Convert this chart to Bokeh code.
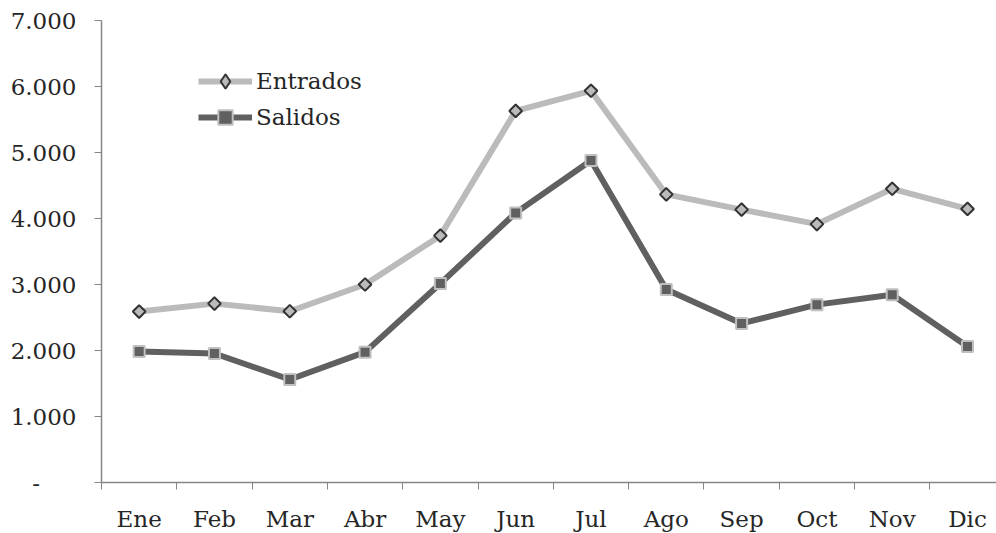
import numpy as np
from bokeh.plotting import figure
from bokeh.models import Range1d, FixedTicker, Legend, LegendItem
from bokeh.embed import file_html
from bokeh.resources import INLINE

months = ["Ene", "Feb", "Mar", "Abr", "May", "Jun", "Jul", "Ago", "Sep", "Oct", "Nov", "Dic"]
entrados = [2590, 2710, 2595, 3000, 3740, 5630, 5935, 4365, 4135, 3915, 4450, 4145]
salidos = [1985, 1955, 1560, 1975, 3015, 4085, 4880, 2925, 2410, 2695, 2845, 2060]
y_ticks = [0, 1000, 2000, 3000, 4000, 5000, 6000, 7000]
y_labels = ["-\u00a0\u00a0\u00a0\u00a0\u00a0", "1.000", "2.000", "3.000", "4.000", "5.000", "6.000", "7.000"]

FONT = "DejaVu Serif"
FS = "23px"
TXT = "#262626"
AX = "#868686"
LIGHT = "#BBBBBB"
DARK = "#606060"

xs = [i + 0.5 for i in range(len(months))]

p = figure(width=996, height=530, output_backend="svg", toolbar_location=None,
           x_range=Range1d(0, 11.885), y_range=Range1d(0, 7000))
p.frame_width = 895
p.frame_height = 462
p.min_border_left = 101
p.min_border_top = 20
p.min_border_right = 0
p.min_border_bottom = 0
p.outline_line_color = None
p.background_fill_color = "white"
p.border_fill_color = "white"
p.grid.visible = False

# x axis
xa = p.xaxis[0]
xa.ticker = FixedTicker(ticks=xs, minor_ticks=list(range(0, 12)))
xa.major_label_overrides = {x: m for x, m in zip(xs, months)}
xa.major_tick_out = 0
xa.major_tick_in = 0
xa.minor_tick_out = 7
xa.minor_tick_in = 0
xa.minor_tick_line_color = AX
xa.axis_line_color = AX
xa.axis_line_width = 1.5
xa.major_label_standoff = 16
xa.major_label_text_font = FONT
xa.major_label_text_font_size = FS
xa.major_label_text_color = TXT

# y axis
ya = p.yaxis[0]
ya.ticker = FixedTicker(ticks=y_ticks, minor_ticks=[])
ya.major_label_overrides = {t: l for t, l in zip(y_ticks, y_labels)}
ya.major_tick_out = 7
ya.major_tick_in = 0
ya.major_tick_line_color = AX
ya.axis_line_color = AX
ya.axis_line_width = 1.5
ya.major_label_standoff = 18
ya.major_label_text_font = FONT
ya.major_label_text_font_size = FS
ya.major_label_text_color = TXT

l1 = p.line(xs, entrados, line_color=LIGHT, line_width=6, line_join="round")
# legend-only diamond (legend draws markers unrotated); size 0 keeps it hidden in the plot
k1 = p.scatter(xs, entrados, marker="diamond", size=0, fill_color=LIGHT,
               line_color="#333333", line_width=2)
s1 = p.scatter(xs, entrados, marker="square", angle=np.pi / 4, size=9,
               fill_color=LIGHT, line_color="#333333", line_width=2)
l2 = p.line(xs, salidos, line_color=DARK, line_width=6, line_join="round")
s2 = p.scatter(xs, salidos, marker="square", size=11,
               fill_color=DARK, line_color="#C0C0C0", line_width=2)

legend = Legend(items=[LegendItem(label="Entrados", renderers=[l1, k1]),
                       LegendItem(label="Salidos", renderers=[l2, s2])],
                location=(97, 347))
legend.border_line_color = None
legend.background_fill_alpha = 0
legend.padding = 0
legend.margin = 0
legend.spacing = -1
legend.glyph_width = 54
legend.glyph_height = 36
legend.label_height = 30
legend.label_standoff = 4
legend.label_text_font = FONT
legend.label_text_font_size = FS
legend.label_text_color = TXT
p.add_layout(legend, "center")

open("out.html", "w").write(file_html(p, INLINE))
